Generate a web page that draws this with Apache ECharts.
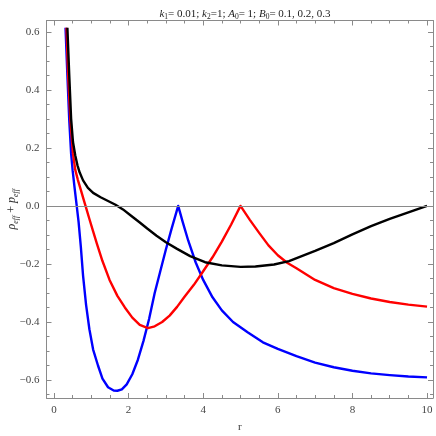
<!DOCTYPE html>
<html>
<head>
<meta charset="utf-8">
<script src="https://cdn.jsdelivr.net/npm/echarts@6/dist/echarts.min.js"></script>
<style>
  html, body { margin: 0; padding: 0; background: #fff; }
  #chart { width: 436px; height: 436px; }
</style>
</head>
<body>
<div id="chart"></div>
<script>
// B0 = 0.1 (black)
const rBlack = [0.36, 0.41, 0.46, 0.51, 0.57, 0.63, 0.69, 0.78, 0.91, 1.05, 1.25, 1.45, 1.65, 1.85, 2.05, 2.30, 2.50, 2.75, 3.00, 3.30, 3.65, 4.05, 4.50, 5.00, 5.40, 5.90, 6.30, 7.00, 7.50, 8.00, 8.50, 9.00, 9.50, 10.0]
const yBlack = [0.614, 0.45, 0.30, 0.22, 0.175, 0.14, 0.115, 0.088, 0.062, 0.045, 0.03, 0.017, 0.004, -0.012, -0.032, -0.057, -0.078, -0.103, -0.125, -0.148, -0.173, -0.194, -0.205, -0.21, -0.209, -0.202, -0.19, -0.155, -0.128, -0.098, -0.07, -0.045, -0.022, 0.0]

// B0 = 0.2 (red)
const rRed = [0.335, 0.38, 0.44, 0.51, 0.57, 0.64, 0.72, 0.80, 0.87, 0.95, 1.05, 1.15, 1.30, 1.49, 1.70, 1.90, 2.10, 2.30, 2.52, 2.70, 2.90, 3.10, 3.30, 3.50, 3.75, 4.00, 4.25, 4.50, 4.75, 5.00, 5.25, 5.50, 5.75, 6.00, 6.25, 6.50, 7.00, 7.50, 8.00, 8.50, 9.00, 9.50, 10.0]
const yRed = [0.614, 0.45, 0.295, 0.18, 0.125, 0.09, 0.055, 0.02, -0.01, -0.045, -0.088, -0.13, -0.19, -0.255, -0.31, -0.35, -0.385, -0.41, -0.421, -0.415, -0.40, -0.378, -0.348, -0.313, -0.272, -0.225, -0.177, -0.123, -0.064, 0.0, -0.048, -0.093, -0.136, -0.17, -0.196, -0.215, -0.255, -0.283, -0.303, -0.319, -0.331, -0.34, -0.347]

// B0 = 0.3 (blue)
const rBlue = [0.31, 0.36, 0.41, 0.46, 0.50, 0.55, 0.61, 0.66, 0.72, 0.78, 0.86, 0.95, 1.05, 1.18, 1.30, 1.45, 1.60, 1.70, 1.82, 1.95, 2.10, 2.25, 2.40, 2.55, 2.70, 2.85, 3.00, 3.15, 3.33, 3.45, 3.60, 3.80, 4.00, 4.25, 4.50, 4.80, 5.20, 5.60, 6.00, 6.50, 7.00, 7.50, 8.00, 8.50, 9.00, 9.50, 10.0]
const yBlue = [0.614, 0.45, 0.295, 0.18, 0.123, 0.066, 0.0, -0.055, -0.14, -0.24, -0.34, -0.425, -0.495, -0.55, -0.595, -0.625, -0.636, -0.637, -0.632, -0.615, -0.58, -0.53, -0.465, -0.39, -0.30, -0.225, -0.15, -0.08, 0.0, -0.055, -0.12, -0.195, -0.255, -0.315, -0.36, -0.40, -0.436, -0.47, -0.493, -0.518, -0.54, -0.556, -0.568, -0.577, -0.583, -0.588, -0.591]

const xMajor = [0, 2, 4, 6, 8, 10]
const xMinor = [0.5, 1, 1.5, 2.5, 3, 3.5, 4.5, 5, 5.5, 6.5, 7, 7.5, 8.5, 9, 9.5]
const yMajor = [-0.6, -0.4, -0.2, 0, 0.2, 0.4, 0.6]
const yMinor = [-0.65, -0.55, -0.5, -0.45, -0.35, -0.3, -0.25, -0.15, -0.1, -0.05, 0.05, 0.1, 0.15, 0.25, 0.3, 0.35, 0.45, 0.5, 0.55]

const frameColor = '#8a8a8a'
const labelFont = { fontFamily: 'Liberation Serif', fontSize: 11, color: '#444' }

function pairs(xs, ys) {
    return xs.map((x, i) => [x, ys[i]])
}

function frameAxis(position, min, max, major, minor, withLabels) {
    // one axis for the frame line + major ticks, one for the minor ticks
    const base = {
        type: 'value',
        position: position,
        min: min,
        max: max,
        splitLine: { show: false },
        axisPointer: { show: false }
    }
    const majorAxis = Object.assign({}, base, {
        axisLine: { show: true, onZero: false, lineStyle: { color: frameColor, width: 1 } },
        axisTick: { show: true, inside: true, length: 5, customValues: major, lineStyle: { color: frameColor } },
        axisLabel: withLabels ? Object.assign({ show: true, customValues: major, margin: 7 }, labelFont) : { show: false }
    })
    const minorAxis = Object.assign({}, base, {
        axisLine: { show: false, onZero: false },
        axisTick: { show: true, inside: true, length: 3, customValues: minor, lineStyle: { color: frameColor } },
        axisLabel: { show: false }
    })
    return [majorAxis, minorAxis]
}

const xMin = -0.2, xMax = 10.16
const yMin = -0.662, yMax = 0.639

const xAxes = frameAxis('bottom', xMin, xMax, xMajor, xMinor, true)
    .concat(frameAxis('top', xMin, xMax, xMajor, xMinor, false))
xAxes[0].axisLabel.formatter = v => String(v)
xAxes[0].name = 'r'
xAxes[0].nameLocation = 'middle'
xAxes[0].nameGap = 24
xAxes[0].nameMoveOverlap = false
xAxes[0].nameTextStyle = { fontFamily: 'Liberation Serif', fontSize: 11, color: '#333' }

const yAxes = frameAxis('left', yMin, yMax, yMajor, yMinor, true)
    .concat(frameAxis('right', yMin, yMax, yMajor, yMinor, false))
yAxes[0].axisLabel.formatter = v => (v < 0 ? '\u2212' : '') + Math.abs(v).toFixed(1)
yAxes[0].name = '{i|\u03c1}{s|eff}{n| + }{i|p}{s|eff}'
yAxes[0].nameLocation = 'middle'
yAxes[0].nameGap = 27
yAxes[0].nameMoveOverlap = false
yAxes[0].nameRotate = 90
yAxes[0].nameTextStyle = {
    fontFamily: 'Liberation Serif',
    color: '#333',
    rich: {
        i: { fontFamily: 'Liberation Serif', fontStyle: 'italic', fontSize: 12, lineHeight: 16, color: '#333' },
        n: { fontFamily: 'Liberation Serif', fontSize: 12, lineHeight: 16, color: '#333' },
        s: { fontFamily: 'Liberation Serif', fontStyle: 'italic', fontSize: 8, lineHeight: 9, verticalAlign: 'bottom', color: '#333' }
    }
}

function curve(name, color, xs, ys) {
    return {
        name: name,
        type: 'line',
        xAxisIndex: 0,
        yAxisIndex: 0,
        data: pairs(xs, ys),
        showSymbol: false,
        symbol: 'none',
        smooth: false,
        clip: true,
        lineStyle: { color: color, width: 2.4, join: 'round' },
        z: 3
    }
}

const chart = echarts.init(document.getElementById('chart'))
chart.setOption({
    animation: false,
    title: {
        text: '{i|k}{s|1}= 0.01; {i|k}{s|2}=1; {i|A}{s|0}= 1; {i|B}{s|0}= 0.1, 0.2, 0.3',
        left: 240,
        textAlign: 'center',
        top: 2,
        textStyle: {
            rich: {
                i: { fontFamily: 'Liberation Serif', fontStyle: 'italic', fontSize: 11, lineHeight: 14, color: '#222' },
                s: { fontFamily: 'Liberation Serif', fontSize: 7.5, lineHeight: 8, verticalAlign: 'bottom', color: '#222' }
            },
            fontFamily: 'Liberation Serif',
            fontSize: 11,
            lineHeight: 14,
            fontWeight: 'normal',
            color: '#222'
        }
    },
    grid: { left: 46.5, right: 3, top: 20.5, bottom: 38, containLabel: false, outerBoundsMode: 'none' },
    xAxis: xAxes,
    yAxis: yAxes,
    series: [
        {
            name: 'zero',
            type: 'line',
            xAxisIndex: 0,
            yAxisIndex: 0,
            data: [],
            markLine: {
                silent: true,
                symbol: 'none',
                label: { show: false },
                lineStyle: { color: frameColor, width: 1, type: 'solid' },
                data: [{ yAxis: 0 }]
            },
            z: 1
        },
        curve('B0=0.3', '#0000ff', rBlue, yBlue),
        curve('B0=0.2', '#ff0000', rRed, yRed),
        curve('B0=0.1', '#000000', rBlack, yBlack)
    ]
})
</script>
</body>
</html>
